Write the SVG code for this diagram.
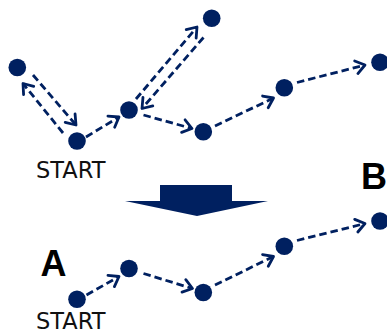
<svg xmlns="http://www.w3.org/2000/svg" width="387" height="331" viewBox="0 0 387 331">
<style>
.n{fill:#002060}
.c{stroke:#002060;stroke-width:2.8;fill:none;stroke-dasharray:7.5 4;marker-end:url(#ah)}
.t{font-family:"DejaVu Sans",Verdana,sans-serif;font-size:22.5px;fill:#111}
.b{font-family:"Liberation Sans",Arial,sans-serif;font-size:36px;font-weight:bold;fill:#000}
</style>
<defs>
<marker id="ah" markerUnits="userSpaceOnUse" markerWidth="20" markerHeight="20" refX="0" refY="0" viewBox="-12 -10 14 20" orient="auto" overflow="visible">
<path d="M-9,-6.5 L0,0 L-9,6.5" fill="none" stroke="#002060" stroke-width="2.8" stroke-linecap="round" stroke-linejoin="round"/>
</marker>
</defs>
<g id="connectors">
<line class="c" x1="63" y1="133" x2="23" y2="83.5"/>
<line class="c" x1="33" y1="75" x2="76" y2="125"/>
<line class="c" x1="86" y1="137" x2="119" y2="117"/>
<line class="c" x1="136" y1="99" x2="197" y2="27"/>
<line class="c" x1="203.5" y1="37.5" x2="142" y2="108.5"/>
<line class="c" x1="143.5" y1="115" x2="192" y2="128.5"/>
<line class="c" x1="215" y1="126" x2="273.5" y2="98"/>
<line class="c" x1="297" y1="82.5" x2="365" y2="65"/>
<line class="c" x1="86.5" y1="295" x2="119" y2="276.5"/>
<line class="c" x1="143.5" y1="273.5" x2="192.5" y2="288.5"/>
<line class="c" x1="215" y1="285" x2="273.5" y2="256.5"/>
<line class="c" x1="297" y1="240.5" x2="365" y2="223.5"/>
</g>
<g id="n1"><circle class="n" cx="17.3" cy="67.5" r="8.8"/></g>
<g id="start-top"><circle class="n" cx="77" cy="141" r="8.8"/><text class="t" x="36" y="178">START</text></g>
<g id="n3"><circle class="n" cx="129" cy="110" r="8.8"/></g>
<g id="n4"><circle class="n" cx="211.7" cy="18.3" r="8.8"/></g>
<g id="n5"><circle class="n" cx="203.3" cy="131.7" r="8.8"/></g>
<g id="n6"><circle class="n" cx="284.3" cy="87.7" r="8.8"/></g>
<g id="n7"><circle class="n" cx="380" cy="62.3" r="8.8"/></g>
<g id="big-arrow"><polygon class="n" points="160,185 232,185 232,201 268,201 197,216 125,201 160,201"/></g>
<g id="label-A"><text class="b" x="40.5" y="276">A</text></g>
<g id="label-B"><text class="b" x="361" y="189">B</text></g>
<g id="start-bottom"><circle class="n" cx="77" cy="299.3" r="8.8"/><text class="t" x="36" y="328.5">START</text></g>
<g id="m2"><circle class="n" cx="129" cy="268.5" r="8.8"/></g>
<g id="m3"><circle class="n" cx="203.3" cy="292.5" r="8.8"/></g>
<g id="m4"><circle class="n" cx="284.3" cy="246.3" r="8.8"/></g>
<g id="m5"><circle class="n" cx="380" cy="221" r="8.8"/></g>
</svg>
